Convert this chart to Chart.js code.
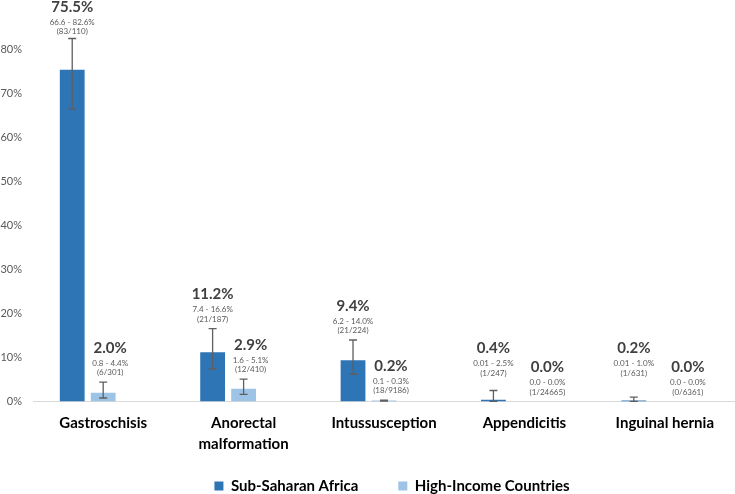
<!DOCTYPE html>
<html>
<head>
<meta charset="utf-8">
<script src="https://cdn.jsdelivr.net/npm/chart.js@4.4.1/dist/chart.umd.min.js"></script>
<style>
    body { margin: 0; background: #fff; }
    #wrap { width: 735px; height: 494px; position: relative; }
</style>
</head>
<body>
<div id="wrap"><canvas id="chart"></canvas></div>
<script>
// Pediatric surgical condition mortality, SSA vs high-income countries

const categories = ['Gastroschisis', ['Anorectal', 'malformation'], 'Intussusception', 'Appendicitis', 'Inguinal hernia'];

const ssaRate = [75.5, 11.2, 9.4, 0.4, 0.2];
const ssaLow = [66.6, 7.4, 6.2, 0.01, 0.01];
const ssaHigh = [82.6, 16.6, 14.0, 2.5, 1.0];
const ssaCounts = ['(83/110)', '(21/187)', '(21/224)', '(1/247)', '(1/631)'];

const hicRate = [2.0, 2.9, 0.2, 0.0, 0.0];
const hicLow = [0.8, 1.6, 0.1, 0.0, 0.0];
const hicHigh = [4.4, 5.1, 0.3, 0.0, 0.0];
const hicCounts = ['(6/301)', '(12/410)', '(18/9186)', '(1/24665)', '(0/6361)'];

const yTicks = [0, 10, 20, 30, 40, 50, 60, 70, 80];

const DARK = '#2e75b6';
const LIGHT = '#9dc3e6';
const FONT = 'Lato, "Open Sans", sans-serif';

function fmt(v) {
    return (v > 0 && v < 0.1) ? String(v) : v.toFixed(1);
}

// error bars + stacked value labels
const annotatePlugin = {
    id: 'annotate',
    afterLayout(chart) {
        // legend sits a bit right of centre and higher up in the original
        chart.legend.left += 16;
        chart.legend.top -= 20;
    },
    afterDatasetsDraw(chart) {
        const ctx = chart.ctx;
        const y = chart.scales.y;
        const series = [
            { meta: chart.getDatasetMeta(0), rate: ssaRate, low: ssaLow, high: ssaHigh, counts: ssaCounts, dark: true },
            { meta: chart.getDatasetMeta(1), rate: hicRate, low: hicLow, high: hicHigh, counts: hicCounts, dark: false }
        ];
        const base = y.getPixelForValue(0);

        series.forEach(s => {
            s.meta.data.forEach((bar, i) => {
                const x = bar.x;
                const top = y.getPixelForValue(s.high[i]);
                const bot = y.getPixelForValue(s.low[i]);

                if (s.high[i] > s.low[i]) {
                    ctx.save();
                    ctx.strokeStyle = '#5f5f5f';
                    ctx.lineWidth = 1.3;
                    ctx.beginPath();
                    ctx.moveTo(x, top);
                    ctx.lineTo(x, bot);
                    ctx.moveTo(x - 4, top);
                    ctx.lineTo(x + 4, top);
                    ctx.moveTo(x - 4, bot);
                    ctx.lineTo(x + 4, bot);
                    ctx.stroke();
                    ctx.restore();
                }

                let ty = Math.max(top - 34, 7);
                let tx = x;
                if (s.dark) {
                    ty = Math.min(ty, base - 53);
                } else {
                    tx = x + (s.high[i] < 0.1 ? 23 : 7);
                }

                ctx.save();
                ctx.textAlign = 'center';
                ctx.textBaseline = 'middle';
                ctx.fillStyle = '#404040';
                ctx.font = 'bold 15px ' + FONT;
                ctx.fillText(s.rate[i].toFixed(1) + '%', tx, ty);
                ctx.fillStyle = '#595959';
                ctx.font = '8px ' + FONT;
                ctx.fillText(fmt(s.low[i]) + ' - ' + fmt(s.high[i]) + '%', tx, ty + 15);
                ctx.fillText(s.counts[i], tx, ty + 24.5);
                ctx.restore();
            });
        });
    }
};

new Chart(document.getElementById('chart'), {
    type: 'bar',
    data: {
        labels: categories,
        datasets: [
            {
                label: 'Sub-Saharan Africa',
                data: ssaRate,
                backgroundColor: DARK,
                categoryPercentage: 0.662,
                barPercentage: 0.8
            },
            {
                label: 'High-Income Countries',
                data: hicRate,
                backgroundColor: LIGHT,
                categoryPercentage: 0.662,
                barPercentage: 0.8
            },
            {
                // empty slot so the pair sits left of the label, like the original
                label: '',
                data: categories.map(() => null),
                backgroundColor: 'rgba(0,0,0,0)',
                categoryPercentage: 0.662,
                barPercentage: 0.8
            }
        ]
    },
    options: {
        responsive: true,
        maintainAspectRatio: false,
        animation: false,
        layout: { padding: { top: 6, right: 0, left: 0, bottom: 0 } },
        plugins: {
            tooltip: { enabled: false },
            legend: {
                position: 'bottom',
                fullSize: false,
                maxHeight: 35.5,
                labels: {
                    boxWidth: 9,
                    boxHeight: 9,
                    padding: 40,
                    color: '#000',
                    font: { family: FONT, size: 15, weight: 'bold' },
                    filter: item => item.text !== ''
                }
            }
        },
        scales: {
            x: {
                grid: { display: false, drawTicks: false },
                border: { display: true, color: '#d9d9d9', width: 1 },
                ticks: {
                    color: '#000',
                    padding: 11,
                    maxRotation: 0,
                    autoSkip: false,
                    font: { family: FONT, size: 15, weight: 'bold', lineHeight: 1.4 }
                },
                afterFit: scale => {
                    scale.height = 57;
                    scale.paddingLeft = 0;
                    scale.paddingRight = 0;
                }
            },
            y: {
                min: 0,
                max: 90,
                grid: { display: false, drawTicks: false },
                border: { display: false },
                afterBuildTicks: scale => {
                    scale.ticks = yTicks.map(v => ({ value: v }));
                },
                ticks: {
                    color: '#595959',
                    padding: 11,
                    font: { family: FONT, size: 11 },
                    callback: v => v + '%'
                },
                afterFit: scale => {
                    scale.width = 33;
                    scale.paddingTop = 0;
                    scale.paddingBottom = 0;
                }
            }
        }
    },
    plugins: [annotatePlugin]
});
</script>
</body>
</html>
